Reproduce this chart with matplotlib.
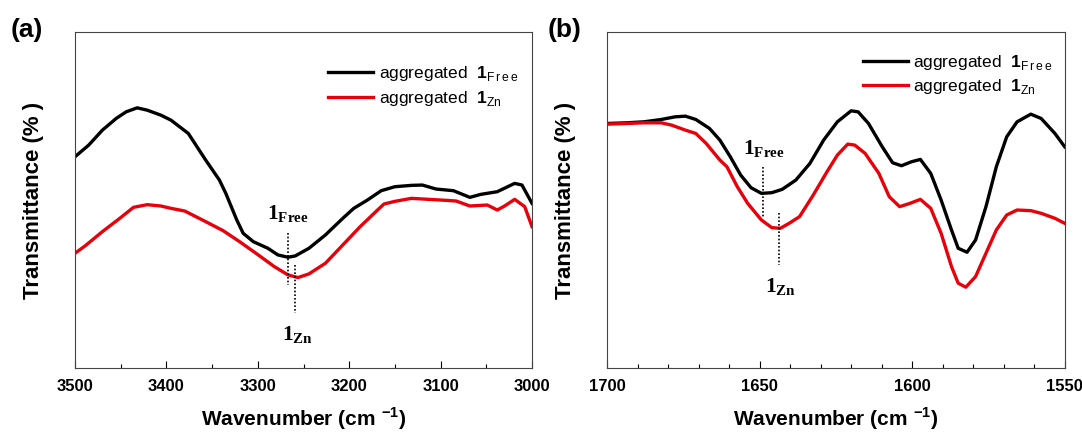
import matplotlib
matplotlib.use("Agg")
import matplotlib.pyplot as plt
from matplotlib.ticker import MultipleLocator

plt.rcParams['font.family'] = ['Liberation Sans', 'DejaVu Sans']
plt.rcParams['mathtext.fontset'] = 'custom'
plt.rcParams['mathtext.rm'] = 'Liberation Serif:bold'
plt.rcParams['mathtext.bf'] = 'Liberation Sans:bold'
plt.rcParams['mathtext.sf'] = 'Liberation Sans'

# ---- panel (a): 3500-3000 cm-1 ----
wn_a_free = [3500, 3485, 3470, 3455, 3444, 3432, 3421, 3406, 3395, 3376, 3357, 3342,
             3335, 3323, 3316, 3305, 3289, 3278, 3267, 3259, 3244, 3226, 3207, 3195,
             3180, 3165, 3150, 3132, 3120, 3105, 3086, 3068, 3056, 3038, 3019, 3011, 3000]
tr_a_free = [63.5, 67.0, 71.5, 75.0, 77.0, 78.2, 77.5, 76.0, 74.5, 70.5, 62.5, 56.5,
             52.5, 44.5, 40.5, 38.0, 36.0, 34.0, 33.3, 33.7, 36.0, 40.0, 45.0, 48.0,
             50.5, 53.3, 54.5, 54.9, 55.0, 53.8, 53.3, 51.3, 52.2, 53.0, 55.5, 55.0, 49.5]
wn_a_zn = [3500, 3489, 3470, 3451, 3436, 3421, 3406, 3395, 3380, 3357, 3338, 3320,
           3301, 3282, 3267, 3256, 3244, 3226, 3207, 3188, 3169, 3162, 3150, 3132,
           3113, 3094, 3083, 3068, 3049, 3038, 3030, 3019, 3008, 3000]
tr_a_zn = [34.5, 36.7, 41.0, 45.0, 48.3, 49.1, 48.7, 48.0, 47.2, 44.0, 41.3, 38.0,
           34.3, 30.5, 28.0, 27.2, 28.3, 31.5, 37.0, 42.5, 47.5, 49.3, 50.1, 51.0,
           50.7, 50.4, 50.2, 48.7, 49.0, 47.5, 48.7, 50.7, 48.5, 42.5]

# ---- panel (b): 1700-1550 cm-1 ----
wn_b_free = [1700.0, 1693.5, 1687.9, 1682.2, 1677.7, 1674.3, 1670.9, 1666.4, 1663.0,
             1659.6, 1656.2, 1652.8, 1649.4, 1646.0, 1642.6, 1638.1, 1633.5, 1629.0,
             1624.5, 1620.0, 1617.7, 1614.3, 1609.8, 1606.4, 1603.5, 1600.2, 1597.3,
             1593.9, 1590.5, 1587.1, 1584.9, 1582.0, 1579.2, 1575.8, 1572.4, 1569.0,
             1565.6, 1561.1, 1557.7, 1553.2, 1550.0]
tr_b_free = [73.5, 73.7, 74.0, 74.7, 75.5, 75.7, 74.7, 72.0, 68.5, 63.5, 58.0, 54.2,
             52.5, 52.7, 53.7, 56.5, 61.5, 68.5, 74.0, 77.3, 77.0, 73.5, 66.5, 61.7,
             60.8, 62.0, 62.7, 58.5, 50.5, 41.5, 36.0, 34.8, 38.5, 48.5, 60.5, 69.5,
             74.0, 76.3, 75.0, 70.5, 66.5]
wn_b_zn = [1700.0, 1693.5, 1687.9, 1682.2, 1678.8, 1674.3, 1670.9, 1667.5, 1663.0,
           1660.7, 1657.3, 1653.9, 1649.4, 1646.0, 1643.2, 1640.3, 1636.9, 1632.4,
           1627.9, 1624.5, 1621.1, 1618.8, 1615.4, 1610.9, 1607.5, 1604.1, 1600.7,
           1597.3, 1593.9, 1590.5, 1587.1, 1584.9, 1582.4, 1579.2, 1575.8, 1572.4,
           1569.0, 1565.6, 1561.1, 1557.7, 1553.2, 1550.0]
tr_b_zn = [73.3, 73.5, 73.7, 73.7, 73.0, 71.5, 70.5, 67.5, 62.5, 60.5, 54.5, 49.5,
           44.5, 42.2, 42.0, 43.5, 45.5, 52.0, 59.0, 64.0, 67.3, 67.0, 64.5, 58.5,
           51.5, 48.5, 49.5, 50.7, 48.0, 40.5, 30.5, 25.5, 24.3, 27.5, 34.5, 41.5,
           46.0, 47.5, 47.3, 46.5, 45.0, 43.5]

# peak markers: (x, y_top, y_bottom, label x, label y, text)
marks_a = [(3267, 40.5, 25.0, 3267, 46.5, r'$\mathrm{1_{Free}}$'),
           (3259, 31.0, 16.5, 3256, 10.0, r'$\mathrm{1_{Zn}}$')]
marks_b = [(1648.8, 60.5, 45.0, 1648.5, 66.0, r'$\mathrm{1_{Free}}$'),
           (1643.7, 46.5, 31.0, 1643.2, 24.5, r'$\mathrm{1_{Zn}}$')]

lab_free = r'aggregated  $\mathbf{1}_{\mathsf{F\,r\,e\,e}}$'
lab_zn = r'aggregated  $\mathbf{1}_{\mathsf{Zn}}$'

fig = plt.figure(figsize=(10.82, 4.32), dpi=100)
ax_a = fig.add_axes([0.0693, 0.148, 0.4224, 0.778])
ax_b = fig.add_axes([0.561, 0.148, 0.423, 0.778])


def style_axis(ax, xlim, major, minor):
    ax.set_xlim(*xlim)
    ax.set_ylim(0, 101)
    ax.xaxis.set_major_locator(MultipleLocator(major))
    ax.xaxis.set_minor_locator(MultipleLocator(minor))
    ax.set_yticks([])
    ax.tick_params(axis='x', which='major', direction='in', length=5, width=0.8,
                   labelsize=12, pad=8, top=False)
    ax.tick_params(axis='x', which='minor', direction='in', length=3, width=0.8, top=False)
    for lbl in ax.get_xticklabels():
        lbl.set_fontweight('bold')
    for s in ax.spines.values():
        s.set_color('#444444')
        s.set_linewidth(0.8)
    ax.set_xlabel(r'Wavenumber (cm $^{\mathbf{-1}}$)', fontsize=15, fontweight='bold',
                  labelpad=8)
    ax.set_ylabel('Transmittance (% )', fontsize=16, fontweight='bold', labelpad=22)


def draw_marks(ax, marks):
    for x, y0, y1, lx, ly, txt in marks:
        ax.plot([x, x], [y0, y1], color='black', lw=1.2, ls=(0, (1, 1.2)))
        ax.text(lx, ly, txt, ha='center', va='center', fontsize=15.5)


ax_a.plot(wn_a_free, tr_a_free, color='black', lw=2.4, solid_joinstyle='round',
          label=lab_free)
ax_a.plot(wn_a_zn, tr_a_zn, color='#e8000b', lw=2.4, solid_joinstyle='round',
          label=lab_zn)
style_axis(ax_a, (3500, 3000), 100, 50)
draw_marks(ax_a, marks_a)
ax_a.legend(loc='upper left', bbox_to_anchor=(0.52, 0.95), frameon=False,
            fontsize=12.5, handlelength=2.6, handletextpad=0.3, labelspacing=0.3)

ax_b.plot(wn_b_free, tr_b_free, color='black', lw=2.4, solid_joinstyle='round',
          label=lab_free)
ax_b.plot(wn_b_zn, tr_b_zn, color='#e8000b', lw=2.4, solid_joinstyle='round',
          label=lab_zn)
style_axis(ax_b, (1700, 1550), 50, 10)
draw_marks(ax_b, marks_b)
ax_b.legend(loc='upper left', bbox_to_anchor=(0.525, 0.985), frameon=False,
            fontsize=12.5, handlelength=2.6, handletextpad=0.3, labelspacing=0.3)

fig.text(0.010, 0.93, '(a)', fontsize=19, fontweight='bold', va='center')
fig.text(0.506, 0.93, '(b)', fontsize=19, fontweight='bold', va='center')

fig.savefig('out.png', dpi=100)
